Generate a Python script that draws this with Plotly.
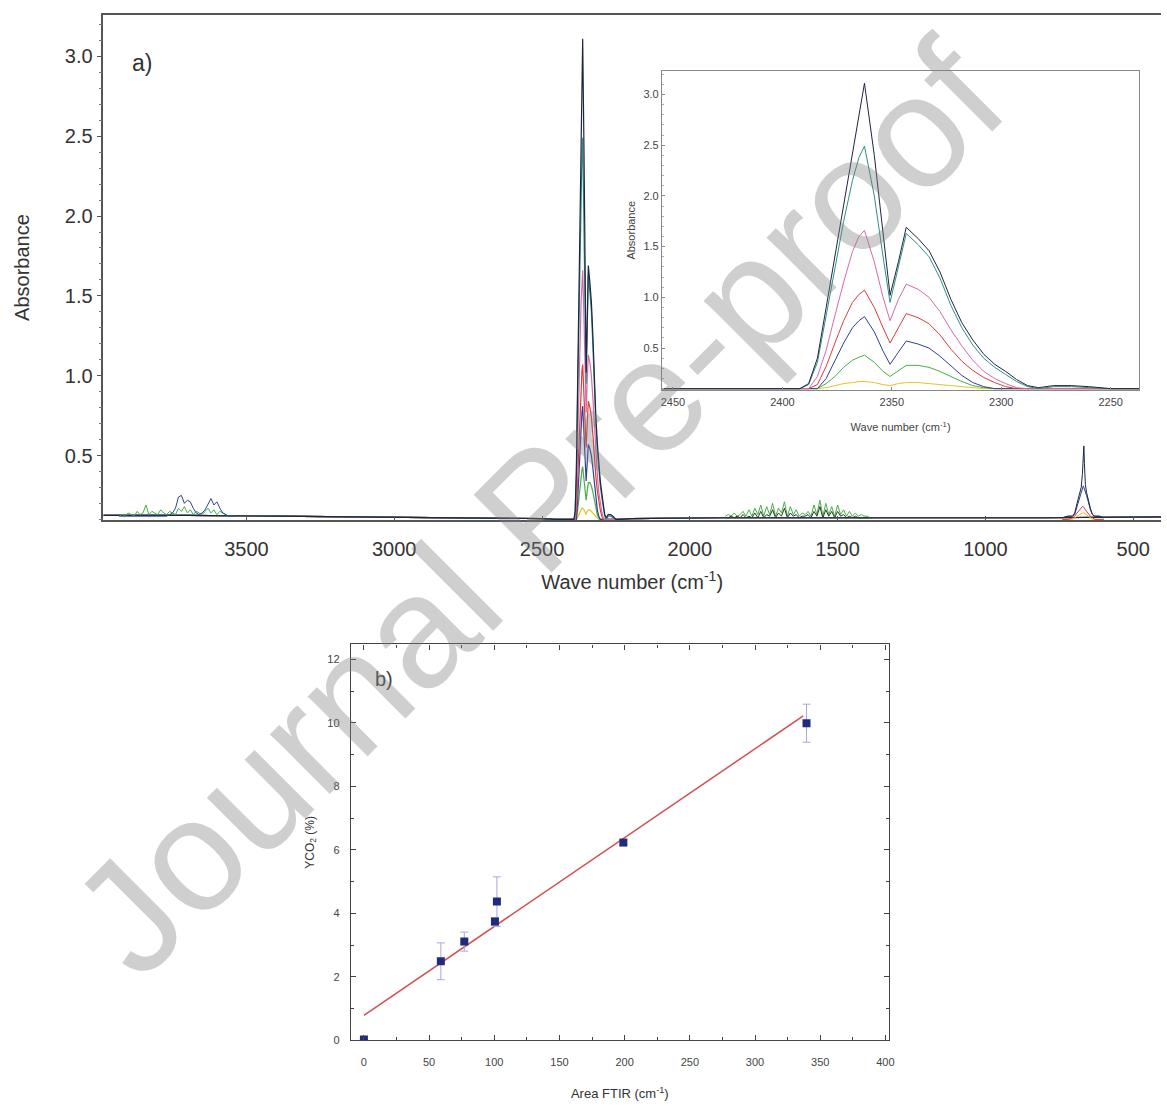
import plotly.graph_objects as go

# ---------------- DATA ----------------
# CO2 stretching band (shared by main panel and inset), wavenumber in cm-1
band_wn = [2455, 2392, 2388, 2384, 2380, 2376, 2372, 2368, 2365, 2362.5,
           2358, 2354, 2350.8, 2347, 2343.4, 2338, 2333, 2328, 2323, 2318,
           2313, 2308, 2303, 2298, 2293, 2288, 2283, 2276, 2268, 2260, 2250, 2237]
band_s1 = [0.10, 0.10, 0.15, 0.40, 0.90, 1.40, 1.92, 2.42, 2.80, 3.11,
           2.40, 1.60, 1.02, 1.35, 1.69, 1.58, 1.46, 1.25, 0.98, 0.75,
           0.58, 0.44, 0.34, 0.27, 0.19, 0.13, 0.11, 0.13, 0.13, 0.12, 0.10, 0.10]
band_s2 = [0.10, 0.10, 0.14, 0.36, 0.82, 1.28, 1.75, 2.15, 2.38, 2.49,
           2.00, 1.40, 0.95, 1.30, 1.63, 1.52, 1.40, 1.19, 0.92, 0.70,
           0.53, 0.40, 0.31, 0.24, 0.17, 0.12, 0.10, 0.12, 0.12, 0.11, 0.10, 0.10]
band_s3 = [0.10, 0.10, 0.10, 0.22, 0.48, 0.82, 1.15, 1.45, 1.60, 1.66,
           1.35, 1.00, 0.77, 0.98, 1.13, 1.08, 1.00, 0.86, 0.68, 0.52,
           0.38, 0.27, 0.20, 0.15, 0.11, 0.10, 0.10, 0.10, 0.10, 0.10, 0.10, 0.10]
band_s4 = [0.10, 0.10, 0.10, 0.14, 0.32, 0.55, 0.77, 0.95, 1.03, 1.07,
           0.90, 0.70, 0.55, 0.70, 0.84, 0.80, 0.74, 0.63, 0.49, 0.37,
           0.28, 0.21, 0.16, 0.12, 0.10, 0.10, 0.10, 0.10, 0.10, 0.10, 0.10, 0.10]
band_s5 = [0.10, 0.10, 0.10, 0.10, 0.20, 0.38, 0.55, 0.70, 0.77, 0.81,
           0.66, 0.47, 0.34, 0.46, 0.57, 0.54, 0.50, 0.42, 0.32, 0.23,
           0.16, 0.12, 0.10, 0.10, 0.10, 0.10, 0.10, 0.10, 0.10, 0.10, 0.10, 0.10]
band_s6 = [0.10, 0.10, 0.10, 0.10, 0.15, 0.22, 0.31, 0.38, 0.41, 0.43,
           0.36, 0.27, 0.22, 0.28, 0.33, 0.33, 0.31, 0.27, 0.22, 0.17,
           0.13, 0.11, 0.10, 0.10, 0.10, 0.10, 0.10, 0.10, 0.10, 0.10, 0.10, 0.10]
band_s7 = [0.10, 0.10, 0.10, 0.10, 0.11, 0.13, 0.15, 0.16, 0.17, 0.17,
           0.16, 0.14, 0.13, 0.15, 0.16, 0.16, 0.15, 0.14, 0.13, 0.12,
           0.11, 0.10, 0.10, 0.10, 0.10, 0.10, 0.10, 0.10, 0.10, 0.10, 0.10, 0.10]
series_bands = [band_s7, band_s6, band_s5, band_s4, band_s3, band_s2, band_s1]
series_colors = ["#e6c229", "#45b045", "#2f3f9a", "#e03a3a", "#d86aa8", "#2f8f86", "#1e2540"]

# baseline outside the band (main panel)
base_left_wn = [3984, 3700, 3400, 3000, 2700, 2500]
base_left_abs = [0.125, 0.125, 0.12, 0.115, 0.11, 0.105]
base_right_wn = [2200, 1900, 1400, 1000, 800, 406]
base_right_abs = [0.105, 0.11, 0.11, 0.11, 0.11, 0.115]

# water vapour region
water_wn = [3930, 3920, 3910, 3900, 3890, 3880, 3870, 3860, 3850, 3840,
            3830, 3820, 3810, 3800, 3790, 3780, 3770, 3760, 3750, 3740,
            3730, 3720, 3710, 3700, 3690, 3680, 3670, 3660, 3650, 3640,
            3630, 3620, 3610, 3600, 3590, 3580, 3570, 3560, 3550, 3540]
water_blue = [0.12, 0.12, 0.12, 0.12, 0.12, 0.12, 0.12, 0.12, 0.12, 0.12,
              0.12, 0.12, 0.12, 0.12, 0.12, 0.12, 0.12, 0.13, 0.14, 0.17,
              0.24, 0.25, 0.20, 0.22, 0.21, 0.17, 0.14, 0.13, 0.14, 0.16,
              0.20, 0.23, 0.19, 0.21, 0.17, 0.14, 0.13, 0.12, 0.12, 0.12]
water_green = [0.12, 0.13, 0.12, 0.14, 0.13, 0.12, 0.15, 0.13, 0.14, 0.19,
               0.13, 0.15, 0.14, 0.13, 0.16, 0.14, 0.13, 0.15, 0.14, 0.13,
               0.17, 0.15, 0.18, 0.14, 0.16, 0.13, 0.15, 0.14, 0.13, 0.15,
               0.17, 0.14, 0.16, 0.13, 0.15, 0.14, 0.13, 0.12, 0.12, 0.12]

# noisy region 1880-1380 cm-1
noise_wn = [1880, 1870, 1860, 1850, 1840, 1830, 1820, 1810, 1800, 1790,
            1780, 1770, 1760, 1750, 1740, 1730, 1720, 1710, 1700, 1690,
            1680, 1670, 1660, 1650, 1640, 1630, 1620, 1610, 1600, 1590,
            1580, 1570, 1560, 1550, 1540, 1530, 1520, 1510, 1500, 1490,
            1480, 1470, 1460, 1450, 1440, 1430, 1420, 1410, 1400, 1390, 1380]
noise_green = [0.12, 0.13, 0.12, 0.14, 0.12, 0.13, 0.15, 0.12, 0.16, 0.12,
               0.17, 0.13, 0.19, 0.12, 0.18, 0.13, 0.20, 0.12, 0.17, 0.14,
               0.21, 0.12, 0.18, 0.13, 0.16, 0.12, 0.14, 0.13, 0.15, 0.12,
               0.19, 0.13, 0.22, 0.12, 0.20, 0.13, 0.18, 0.12, 0.19, 0.13,
               0.16, 0.12, 0.15, 0.12, 0.14, 0.12, 0.13, 0.12, 0.12, 0.11, 0.11]
noise_dark = [0.11, 0.11, 0.12, 0.11, 0.12, 0.11, 0.13, 0.11, 0.12, 0.11,
              0.14, 0.11, 0.15, 0.11, 0.13, 0.12, 0.16, 0.11, 0.14, 0.12,
              0.17, 0.11, 0.14, 0.12, 0.13, 0.11, 0.12, 0.12, 0.13, 0.11,
              0.15, 0.12, 0.18, 0.11, 0.16, 0.12, 0.15, 0.11, 0.15, 0.12,
              0.13, 0.11, 0.12, 0.11, 0.12, 0.11, 0.11, 0.11, 0.11, 0.11, 0.11]

# CO2 bending band near 667 cm-1
bend_wn = [740, 720, 705, 698, 690, 682, 676, 672, 669, 667,
           665, 662, 658, 652, 645, 638, 630, 615, 600]
bend_s1 = [0.11, 0.12, 0.12, 0.14, 0.20, 0.26, 0.30, 0.38, 0.50, 0.56,
           0.45, 0.32, 0.27, 0.22, 0.17, 0.13, 0.12, 0.12, 0.11]
bend_s5 = [0.11, 0.12, 0.12, 0.13, 0.18, 0.23, 0.27, 0.29, 0.31, 0.30,
           0.29, 0.27, 0.25, 0.21, 0.16, 0.13, 0.12, 0.12, 0.11]
bend_s4 = [0.10, 0.10, 0.11, 0.12, 0.14, 0.16, 0.17, 0.18, 0.18, 0.17,
           0.17, 0.16, 0.15, 0.14, 0.12, 0.11, 0.10, 0.10, 0.10]
bend_s7 = [0.10, 0.10, 0.10, 0.11, 0.12, 0.13, 0.14, 0.14, 0.14, 0.14,
           0.14, 0.13, 0.13, 0.12, 0.11, 0.10, 0.10, 0.10, 0.10]

# panel b: calibration
area_ftir = [0, 59, 77, 100.5, 102, 199, 339.5]
yco2 = [0.03, 2.49, 3.11, 3.74, 4.37, 6.23, 9.99]
yco2_err = [0.0, 0.58, 0.30, 0.12, 0.78, 0.08, 0.60]
fit_x = [0, 337]
fit_y = [0.79, 10.22]

# ---------------- FIGURE ----------------
FONT = "Liberation Sans, Arial, sans-serif"
TXT = "#333333"
fig = go.Figure()

def line(x, y, color, xa, ya, w=1.0):
    fig.add_trace(go.Scatter(x=x, y=y, mode="lines", line=dict(color=color, width=w),
                             xaxis=xa, yaxis=ya, showlegend=False, hoverinfo="skip"))

# main panel spectra
for band, col in zip(series_bands, series_colors):
    line(base_left_wn + band_wn + base_right_wn, base_left_abs + band + base_right_abs, col, "x", "y", 1.2)
line(water_wn, water_green, "#45b045", "x", "y")
line(water_wn, water_blue, "#2f3f9a", "x", "y")
line(noise_wn, noise_green, "#45b045", "x", "y")
line(noise_wn, noise_dark, "#2a3a2a", "x", "y")
line(bend_wn, bend_s7, "#e6c229", "x", "y")
line(bend_wn, bend_s4, "#e03a3a", "x", "y")
line(bend_wn, bend_s5, "#2f3f9a", "x", "y")
line(bend_wn, bend_s1, "#1e2540", "x", "y")

# inset spectra
for band, col in zip(series_bands, series_colors):
    line(band_wn, band, col, "x2", "y2", 1.0)

# panel b
fig.add_trace(go.Scatter(x=fit_x, y=fit_y, mode="lines", line=dict(color="#d2504f", width=1.5),
                         xaxis="x3", yaxis="y3", showlegend=False))
fig.add_trace(go.Scatter(x=area_ftir, y=yco2, mode="markers",
                         marker=dict(symbol="square", size=8, color="#1f2c7c"),
                         error_y=dict(type="data", array=yco2_err, color="#a9a8dc", thickness=1, width=4),
                         xaxis="x3", yaxis="y3", showlegend=False, cliponaxis=True))

W, H = 1167, 1107
def px_x(a, b):
    return [a / W, b / W]
def px_y(top, bottom):
    return [1 - bottom / H, 1 - top / H]

axis_common = dict(showgrid=False, zeroline=False, showline=True)

fig.update_layout(
    width=W, height=H, margin=dict(l=0, r=0, t=0, b=0),
    paper_bgcolor="white", plot_bgcolor="rgba(0,0,0,0)",
    font=dict(family=FONT, color=TXT),
    xaxis=dict(**axis_common, domain=px_x(103, 1167), anchor="y", range=[3984, 406],
               linecolor="#555", linewidth=1.5, mirror=True,
               ticks="inside", ticklen=4, tickcolor="#555", tick0=0, dtick=500,
               tickfont=dict(size=20, color=TXT), ticklabelstandoff=10,
               title=dict(text="Wave number (cm<sup>-1</sup>)", font=dict(size=20, color=TXT), standoff=16)),
    yaxis=dict(**axis_common, domain=px_y(15, 523), anchor="x", range=[0.095, 3.26],
               linecolor="#555", linewidth=1.5,
               ticks="outside", ticklen=5, tickcolor="#555", tick0=0, dtick=0.5, tickformat=".1f",
               minor=dict(ticks="outside", ticklen=2.5, dtick=0.1, tickcolor="#777"),
               tickfont=dict(size=20, color=TXT),
               title=dict(text="Absorbance", font=dict(size=20, color=TXT), standoff=30)),
    xaxis2=dict(**axis_common, domain=px_x(665, 1145), anchor="y2", range=[2455, 2237],
                linecolor="#888", linewidth=1.2, mirror=True,
                ticks="inside", ticklen=3, tickcolor="#888", tick0=0, dtick=50,
                tickfont=dict(size=11, color="#444"), ticklabelstandoff=2,
                title=dict(text="Wave number (cm<sup>-1</sup>)", font=dict(size=11, color="#444"), standoff=16)),
    yaxis2=dict(**axis_common, domain=px_y(71, 392), anchor="x2", range=[0.088, 3.235],
                linecolor="#888", linewidth=1.2, mirror=True,
                ticks="inside", ticklen=3, tickcolor="#888", tick0=0, dtick=0.5, tickformat=".1f",
                minor=dict(ticks="inside", ticklen=2, dtick=0.1, tickcolor="#aaa"),
                tickfont=dict(size=11, color="#444"),
                title=dict(text="Absorbance", font=dict(size=11, color="#444"), standoff=5)),
    xaxis3=dict(**axis_common, domain=px_x(352, 893), anchor="y3", range=[-10, 402.5],
                linecolor="#444", linewidth=1.2, mirror="ticks",
                ticks="inside", ticklen=5, tickcolor="#444", tick0=0, dtick=50,
                minor=dict(ticks="inside", ticklen=3, dtick=25, tickcolor="#444"),
                tickfont=dict(size=11, color="#444"), ticklabelstandoff=11,
                title=dict(text="Area FTIR (cm<sup>-1</sup>)", font=dict(size=13, color="#333"), standoff=22)),
    yaxis3=dict(**axis_common, domain=px_y(648, 1046), anchor="x3", range=[0, 12.47],
                linecolor="#444", linewidth=1.2, mirror="ticks",
                ticks="inside", ticklen=5, tickcolor="#444", tick0=0, dtick=2,
                minor=dict(ticks="inside", ticklen=3, dtick=1, tickcolor="#444"),
                tickfont=dict(size=11, color="#444"), ticklabelstandoff=8,
                title=dict(text="YCO<sub>2</sub> (%)", font=dict(size=12, color="#333"), standoff=10)),
    annotations=[
        dict(text="a)", x=142 / W, y=1 - 63 / H, xref="paper", yref="paper", showarrow=False,
             xanchor="center", yanchor="middle", font=dict(size=23, color=TXT)),
        dict(text="b)", x=385 / W, y=1 - 683 / H, xref="paper", yref="paper", showarrow=False,
             xanchor="center", yanchor="middle", font=dict(size=20, color="#444")),
        dict(text="Journal Pre-proof", x=540 / W, y=1 - 510 / H, xref="paper", yref="paper",
             xanchor="center", yanchor="middle",
             showarrow=False, textangle=-45, font=dict(size=160, color="rgba(128,128,128,0.38)")),
    ],
)

fig.write_html("out.html")
